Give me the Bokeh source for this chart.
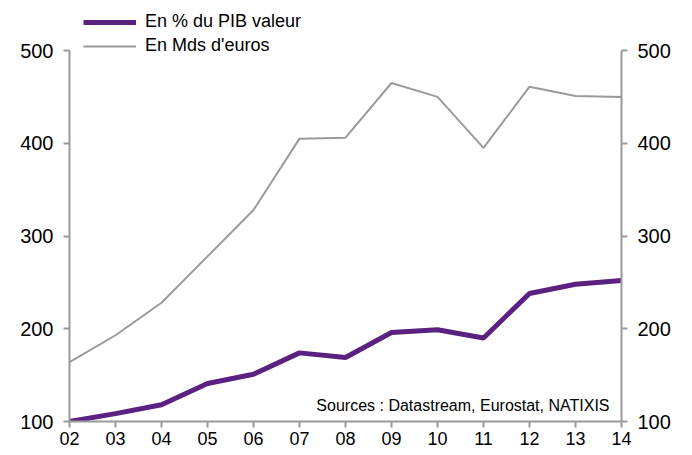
from bokeh.plotting import figure
from bokeh.models import Range1d, LinearAxis, FixedTicker, Legend, LegendItem, Label
from bokeh.embed import file_html
from bokeh.resources import INLINE

years = [2, 3, 4, 5, 6, 7, 8, 9, 10, 11, 12, 13, 14]
year_labels = ["02", "03", "04", "05", "06", "07", "08", "09", "10", "11", "12", "13", "14"]
pct_pib = [100, 108.5, 118, 141, 151, 174, 169, 196, 199, 190, 238, 248, 252]
mds_euros = [164, 193, 228, 278, 328, 405, 406, 465, 450, 395, 461, 451, 450]
y_ticks = [100, 200, 300, 400, 500]

FONT = "Liberation Sans"
AXIS_COL = "#9a9a9a"

p = figure(width=684, height=447, output_backend="svg", toolbar_location=None,
           x_range=Range1d(2, 14), y_range=Range1d(100, 541),
           min_border_left=69, min_border_right=63, min_border_top=12, min_border_bottom=26)
p.outline_line_color = None
p.xgrid.grid_line_color = None
p.ygrid.grid_line_color = None
p.background_fill_color = "white"
p.border_fill_color = "white"

p.extra_y_ranges = {"r": Range1d(100, 541)}
raxis = LinearAxis(y_range_name="r")
p.add_layout(raxis, "right")

for ax in [p.yaxis[0], raxis]:
    ax.ticker = FixedTicker(ticks=y_ticks)
    ax.bounds = (100, 500)
    ax.axis_line_color = AXIS_COL
    ax.axis_line_width = 2
    ax.major_tick_line_color = AXIS_COL
    ax.major_tick_line_width = 2
    ax.major_tick_out = 6
    ax.major_tick_in = 0
    ax.minor_tick_line_color = None
    ax.major_label_text_font = FONT
    ax.major_label_text_font_size = "20px"
    ax.major_label_text_color = "black"
    ax.major_label_standoff = 10

xa = p.xaxis[0]
xa.ticker = FixedTicker(ticks=years)
xa.major_label_overrides = {y: l for y, l in zip(years, year_labels)}
xa.axis_line_color = AXIS_COL
xa.axis_line_width = 2
xa.major_tick_line_color = AXIS_COL
xa.major_tick_line_width = 2
xa.major_tick_out = 6
xa.major_tick_in = 0
xa.minor_tick_line_color = None
xa.major_label_text_font = FONT
xa.major_label_text_font_size = "18px"
xa.major_label_text_color = "black"
xa.major_label_standoff = 4

r_pct = p.line(years, pct_pib, line_color="#5b2181", line_width=5)
r_mds = p.line(years, mds_euros, line_color="#9a9a9a", line_width=2)

legend = Legend(items=[LegendItem(label="En % du PIB valeur", renderers=[r_pct]),
                       LegendItem(label="En Mds d'euros", renderers=[r_mds])],
                location=(14, 365), orientation="vertical",
                glyph_width=53, glyph_height=20, label_height=20, spacing=3,
                label_standoff=9, padding=0, margin=0,
                border_line_color=None, background_fill_alpha=0,
                label_text_font=FONT, label_text_font_size="18px", label_text_color="black")
p.add_layout(legend, "center")

src = Label(x=540, y=16, x_units="screen", y_units="screen",
            text="Sources : Datastream, Eurostat, NATIXIS",
            text_align="right", text_baseline="middle",
            text_font=FONT, text_font_size="16px", text_color="black")
p.add_layout(src)

open("out.html", "w").write(file_html(p, INLINE))
